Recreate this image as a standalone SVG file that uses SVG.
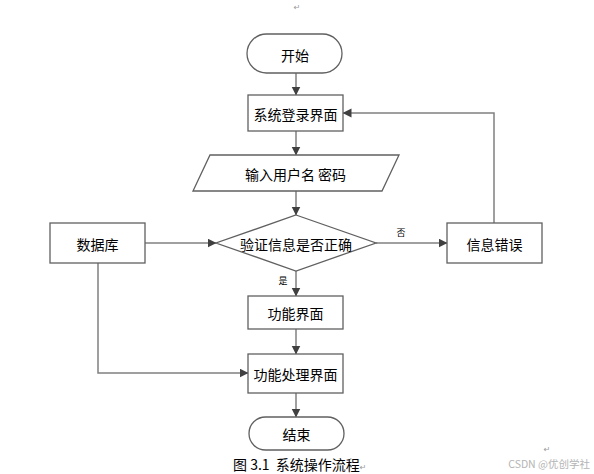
<svg xmlns="http://www.w3.org/2000/svg" width="594" height="474" viewBox="0 0 594 474">
<style>
.shape{fill:#ffffff;stroke:#606060;stroke-width:1.3}
.lbl{font-family:"Noto Sans CJK SC","Liberation Sans",sans-serif;font-size:14px;fill:#000;text-anchor:middle;dominant-baseline:central}
.small{font-family:"Noto Sans CJK SC","Liberation Sans",sans-serif;font-size:9px;fill:#000;text-anchor:middle;dominant-baseline:central}
.conn{fill:none;stroke:#808080;stroke-width:1.5}
.mark{font-family:"DejaVu Sans",sans-serif;font-size:8px;fill:#999}
</style>
<defs>
<marker id="arr" markerUnits="userSpaceOnUse" markerWidth="9" markerHeight="10" refX="8.5" refY="4.5" orient="auto">
<path d="M0,0 L9,4.5 L0,9 z" fill="#404040"/>
</marker>
</defs>
<rect width="594" height="474" fill="#ffffff"/>
<text class="mark" x="297" y="10" text-anchor="middle">↵</text>
<g id="connectors">
<path class="conn" d="M296,73 V95" marker-end="url(#arr)"/>
<path class="conn" d="M296,131 V155" marker-end="url(#arr)"/>
<path class="conn" d="M296,191 V215" marker-end="url(#arr)"/>
<path class="conn" d="M296,271 V296" marker-end="url(#arr)"/>
<path class="conn" d="M296,329 V354" marker-end="url(#arr)"/>
<path class="conn" d="M296,393 V417" marker-end="url(#arr)"/>
<path class="conn" d="M145,243 H216" marker-end="url(#arr)"/>
<path class="conn" d="M376,243 H447" marker-end="url(#arr)"/>
<path class="conn" d="M494,223 V113 H343" marker-end="url(#arr)"/>
<path class="conn" d="M98,263 V373 H248" marker-end="url(#arr)"/>
<text class="small" x="283" y="280">是</text>
<text class="small" x="401" y="232">否</text>
</g>
<g id="start">
<rect class="shape" x="247" y="34" width="95" height="39" rx="19.5"/>
<text class="lbl" x="295" y="54.5">开始</text>
</g>
<g id="login">
<rect class="shape" x="248" y="95" width="95" height="36"/>
<text class="lbl" x="295.5" y="113.5">系统登录界面</text>
</g>
<g id="input">
<polygon class="shape" points="210,155 399,155 382,191 193,191"/>
<text class="lbl" x="295.5" y="173.5" xml:space="preserve">输入用户名 密码</text>
</g>
<g id="verify">
<polygon class="shape" points="296,215 376,243 296,271 216,243"/>
<text class="lbl" x="296" y="243.5">验证信息是否正确</text>
</g>
<g id="database">
<rect class="shape" x="50" y="223" width="95" height="40"/>
<text class="lbl" x="97.5" y="243.5">数据库</text>
</g>
<g id="error">
<rect class="shape" x="447" y="223" width="95" height="40"/>
<text class="lbl" x="494.5" y="243.5">信息错误</text>
</g>
<g id="function">
<rect class="shape" x="248" y="296" width="95" height="33"/>
<text class="lbl" x="295.5" y="313">功能界面</text>
</g>
<g id="process">
<rect class="shape" x="248" y="354" width="95" height="39"/>
<text class="lbl" x="295.5" y="374">功能处理界面</text>
</g>
<g id="end">
<rect class="shape" x="249" y="417" width="95" height="33" rx="16.5"/>
<text class="lbl" x="296.5" y="434">结束</text>
</g>
<text x="233" y="470" font-family="'Noto Sans CJK SC','Liberation Sans',sans-serif" font-size="14" fill="#000" xml:space="preserve">图 3.1  系统操作流程<tspan class="mark">↵</tspan></text>
<text class="mark" x="547" y="452" text-anchor="middle">↵</text>
<text x="590" y="468" text-anchor="end" font-family="'Noto Sans CJK SC','Liberation Sans',sans-serif" font-size="10.5" fill="#b4b4b4">CSDN @优创学社</text>
</svg>
